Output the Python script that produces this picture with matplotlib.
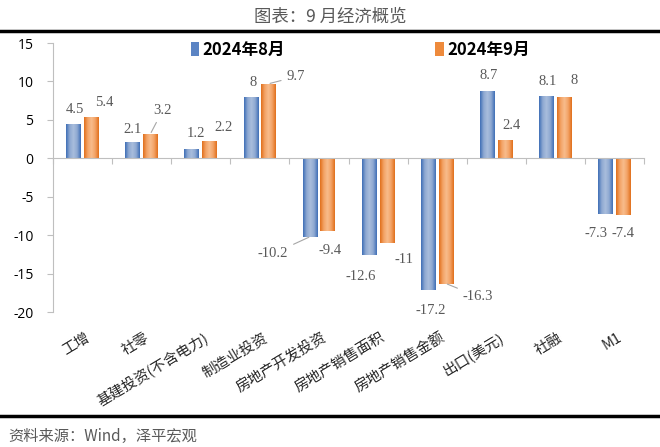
import numpy as np
import matplotlib
matplotlib.use('Agg')
import matplotlib.pyplot as plt
from matplotlib.colors import LinearSegmentedColormap
from matplotlib.patches import Patch
from matplotlib.lines import Line2D
import matplotlib.transforms as mtransforms

plt.rcParams['font.family'] = ['Noto Sans CJK SC', 'DejaVu Sans']

categories = ['工增', '社零', '基建投资(不含电力)', '制造业投资', '房地产开发投资',
              '房地产销售面积', '房地产销售金额', '出口(美元)', '社融', 'M1']
aug = [4.5, 2.1, 1.2, 8, -10.2, -12.6, -17.2, 8.7, 8.1, -7.3]
sep = [5.4, 3.2, 2.2, 9.7, -9.4, -11, -16.3, 2.4, 8, -7.4]
series_names = ['2024年8月', '2024年9月']
yticks = [-20, -15, -10, -5, 0, 5, 10, 15]

# label offsets (pixels) from the bar end, and which ones get a leader line
aug_off = [(1, 14), (0, 13), (4, 16), (2, 14), (-37, -17), (-8, -21), (2, -20), (1, 16), (1, 15), (-10, -19)]
sep_off = [(13, 14), (12, 23), (14, 14), (27, 7), (2, -20), (17, -17), (32, -13), (6, 14), (10, 16), (0, -18)]
aug_lead = [4]
sep_lead = [1, 3, 6]

blue_cmap = LinearSegmentedColormap.from_list('b', ['#3f6fb6', '#8fa9d2', '#a9bddc', '#8fa9d2', '#3f6fb6'])
orange_cmap = LinearSegmentedColormap.from_list('o', ['#e0701c', '#f3a366', '#f8bc8c', '#f3a366', '#e0701c'])

fig = plt.figure(figsize=(6.6, 4.47), dpi=100)
ax = fig.add_axes([53 / 660, 1 - 312 / 447, 591 / 660, 269 / 447])

x = np.arange(len(categories))
w = 0.25
grad = np.linspace(0, 1, 64).reshape(1, -1)


def draw(vals, offset, cmap, color, offs, leads):
    bars = ax.bar(x + offset, vals, w, color=color, zorder=2)
    for i, b in enumerate(bars):
        x0, y0 = b.get_x(), b.get_y()
        y1 = y0 + b.get_height()
        im = ax.imshow(grad, extent=[x0, x0 + b.get_width(), min(y0, y1), max(y0, y1)],
                       aspect='auto', cmap=cmap, zorder=3, interpolation='bilinear')
        im.set_clip_path(b)
        v = vals[i]
        dx, dy = offs[i]
        kw = {}
        if i in leads:
            kw['arrowprops'] = dict(arrowstyle='-', color='#a6a6a6', lw=0.8, shrinkA=2, shrinkB=1)
        ax.annotate('{:g}'.format(v), xy=(x0 + b.get_width() / 2, v), xytext=(dx, dy),
                    textcoords='offset pixels', ha='center', va='center',
                    fontsize=10.5, color='#595959', family='Liberation Serif', zorder=5, **kw)
    return bars


draw(aug, -0.15, blue_cmap, '#5b84c4', aug_off, aug_lead)
draw(sep, 0.15, orange_cmap, '#ee8a3c', sep_off, sep_lead)

ax.set_xlim(-0.5, len(categories) - 0.5)
ax.set_ylim(-20, 15)
ax.set_yticks(yticks)
ax.set_yticklabels([str(t) for t in yticks], family='Open Sans', fontsize=10)

for s in ['top', 'right']:
    ax.spines[s].set_visible(False)
ax.spines['left'].set_color('#bfbfbf')
ax.spines['bottom'].set_position(('data', 0))
ax.spines['bottom'].set_color('#bfbfbf')
ax.spines['bottom'].set_zorder(4)
ax.tick_params(axis='y', color='#bfbfbf', length=4, pad=10)
ax.set_xticks(np.arange(len(categories) + 1) - 0.5)
ax.set_xticklabels([])
ax.tick_params(axis='x', color='#bfbfbf', length=4)

trans = mtransforms.blended_transform_factory(ax.transData, ax.transAxes)
for i, c in enumerate(categories):
    ax.text(i + 0.04, -0.068, c, transform=trans, rotation=31, rotation_mode='anchor',
            ha='right', va='top', fontsize=10.5, color='#262626')

handles = [Patch(facecolor='#5b84c4'), Patch(facecolor='#ee8a3c')]
leg = ax.legend(handles, series_names, loc='upper center', bbox_to_anchor=(0.52, 1.065), ncol=2,
                frameon=False, handlelength=0.5, handleheight=0.9, handletextpad=0.2,
                columnspacing=9, prop={'weight': 'bold', 'size': 12})

fig.text(0.5, 1 - 17 / 447, '图表：9 月经济概览', ha='center', va='center', fontsize=12.5, color='#595959')
fig.add_artist(Line2D([0, 1], [1 - 31 / 447] * 2, transform=fig.transFigure, color='black', lw=2.5))
fig.add_artist(Line2D([0, 1], [1 - 416 / 447] * 2, transform=fig.transFigure, color='black', lw=2.5))
fig.text(8 / 660, 1 - 436 / 447, '资料来源：Wind，泽平宏观', ha='left', va='center', fontsize=11,
         color='#595959', style='italic')

fig.savefig('out.png', dpi=100)
